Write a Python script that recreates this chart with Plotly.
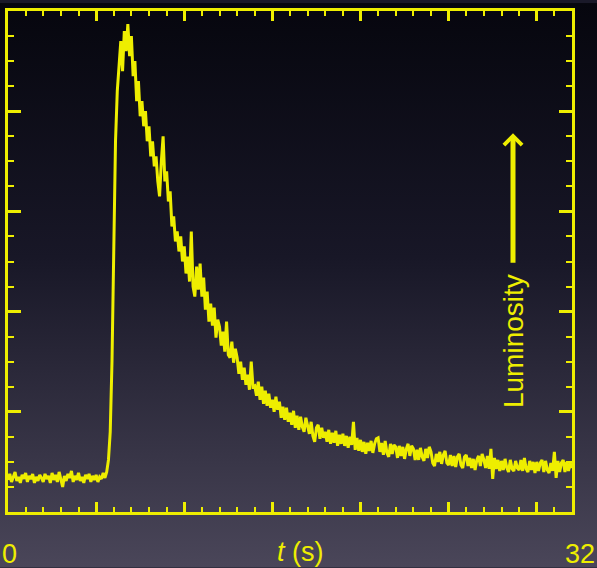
import base64
import plotly.graph_objects as go

# ---- data (t in s, luminosity in arbitrary units) ----
step = 0.1
luminosity = [
    0.32, 0.38, 0.30, 0.36, 0.40, 0.31, 0.35, 0.29, 0.37, 0.33,
    0.39, 0.30, 0.36, 0.33, 0.38, 0.29, 0.35, 0.31, 0.37, 0.34,
    0.30, 0.38, 0.33, 0.36, 0.29, 0.39, 0.32, 0.37, 0.30, 0.40,
    0.33, 0.25, 0.36, 0.31, 0.38, 0.34, 0.41, 0.30, 0.36, 0.32,
    0.39, 0.31, 0.35, 0.29, 0.37, 0.33, 0.38, 0.30, 0.36, 0.32,
    0.37, 0.30, 0.35, 0.33, 0.39, 0.34, 0.40, 0.52, 0.80, 1.50,
    2.60, 3.70, 4.20, 4.45, 4.70, 4.40, 4.80, 4.60, 4.87, 4.55,
    4.75, 4.35, 4.50, 4.10, 4.30, 3.95, 4.10, 3.85, 4.00, 3.70,
    3.85, 3.55, 3.70, 3.45, 3.55, 3.30, 3.15, 3.50, 3.75, 3.30,
    3.40, 3.10, 3.20, 2.85, 2.95, 2.70, 2.80, 2.60, 2.75, 2.50,
    2.65, 2.38, 2.55, 2.30, 2.80, 2.25, 2.15, 2.45, 2.22, 2.48,
    2.15, 2.34, 2.02, 2.20, 1.90, 2.08, 1.86, 2.04, 1.74, 1.92,
    1.85, 1.66, 1.80, 1.60, 1.90, 1.57, 1.54, 1.70, 1.49, 1.63,
    1.54, 1.38, 1.50, 1.32, 1.44, 1.27, 1.37, 1.22, 1.50, 1.25,
    1.26, 1.16, 1.30, 1.12, 1.25, 1.08, 1.21, 1.06, 1.18, 1.04,
    1.12, 1.00, 1.15, 1.02, 1.10, 0.94, 1.05, 0.92, 1.04, 0.90,
    0.99, 0.87, 1.01, 0.84, 0.96, 0.82, 0.95, 0.85, 0.80, 0.94,
    0.86, 0.78, 0.90, 0.76, 0.70, 0.84, 0.87, 0.73, 0.84, 0.74,
    0.80, 0.70, 0.82, 0.68, 0.79, 0.69, 0.81, 0.66, 0.77, 0.68,
    0.78, 0.66, 0.76, 0.64, 0.75, 0.67, 0.90, 0.62, 0.74, 0.61,
    0.72, 0.60, 0.70, 0.58, 0.69, 0.61, 0.71, 0.59, 0.68, 0.73,
    0.74, 0.60, 0.69, 0.57, 0.71, 0.59, 0.55, 0.68, 0.58, 0.67,
    0.65, 0.54, 0.66, 0.56, 0.65, 0.53, 0.63, 0.68, 0.56, 0.66,
    0.63, 0.52, 0.62, 0.52, 0.64, 0.55, 0.51, 0.63, 0.54, 0.65,
    0.60, 0.49, 0.46, 0.58, 0.50, 0.60, 0.48, 0.57, 0.61, 0.49,
    0.47, 0.57, 0.46, 0.56, 0.45, 0.55, 0.58, 0.47, 0.44, 0.55,
    0.57, 0.46, 0.54, 0.44, 0.53, 0.42, 0.52, 0.56, 0.46, 0.58,
    0.52, 0.44, 0.56, 0.43, 0.63, 0.33, 0.54, 0.43, 0.52, 0.41,
    0.51, 0.42, 0.53, 0.44, 0.40, 0.52, 0.43, 0.41, 0.51, 0.44,
    0.42, 0.52, 0.41, 0.54, 0.43, 0.40, 0.51, 0.42, 0.50, 0.39,
    0.50, 0.41, 0.49, 0.52, 0.40, 0.51, 0.42, 0.39, 0.49, 0.41,
    0.60, 0.34, 0.51, 0.40, 0.49, 0.52, 0.40, 0.50, 0.41, 0.49,
    0.44,
]
times = [round(i * step, 1) for i in range(len(luminosity))]

x_range = [0, 32]
y_range = [0, 5]
x_labels = ["0", "32"]
x_title = "<i>t</i> (s)"
y_title = "Luminosity"

# ---- styling ----
W, H = 597, 568
ML, MR, MT, MB = 8, 25, 8, 56
PW, PH = W - ML - MR, H - MT - MB
YEL = "#eeee00"
FONT = "Liberation Sans, Arial, Helvetica, sans-serif"

svg = (
    f'<svg xmlns="http://www.w3.org/2000/svg" width="{W}" height="{H}">'
    '<defs><linearGradient id="g" x1="0" y1="0" x2="0" y2="1">'
    '<stop offset="0" stop-color="#06060e"/>'
    '<stop offset="0.45" stop-color="#181727"/>'
    '<stop offset="1" stop-color="#4a4659"/>'
    '</linearGradient></defs>'
    f'<rect width="{W}" height="{H}" fill="url(#g)"/></svg>'
)
bg_src = "data:image/svg+xml;base64," + base64.b64encode(svg.encode()).decode()

fig = go.Figure()
fig.add_trace(go.Scatter(
    x=times, y=luminosity, mode="lines",
    line=dict(color=YEL, width=3), hoverinfo="skip", showlegend=False,
))

axis_common = dict(
    showgrid=False, zeroline=False, showticklabels=False,
    showline=True, linecolor=YEL, linewidth=3, mirror="allticks",
    ticks="inside", tickcolor=YEL, tickwidth=2.5,
    fixedrange=True,
)
fig.update_xaxes(range=x_range, tick0=0, dtick=5, ticklen=10,
                 minor=dict(dtick=1, ticklen=5, tickwidth=2, tickcolor=YEL, ticks="inside"),
                 **axis_common)
fig.update_yaxes(range=y_range, tick0=0, dtick=1, ticklen=13,
                 minor=dict(dtick=0.25, ticklen=6, tickwidth=2, tickcolor=YEL, ticks="inside"),
                 **axis_common)

def px_x(px):
    return (px - ML) / PW

def px_y(py):
    return (H - MB - py) / PH

annotations = [
    dict(text=x_labels[0], x=px_x(0), y=px_y(554), xanchor="left", yanchor="middle", size=27),
    dict(text=x_labels[1], x=px_x(597), y=px_y(554), xanchor="right", yanchor="middle", size=27),
    dict(text=x_title, x=px_x(301), y=px_y(552), xanchor="center", yanchor="middle", size=27),
    dict(text=y_title, x=px_x(513), y=px_y(340), xanchor="center", yanchor="middle",
         textangle=-90, size=28),
]
for a in annotations:
    size = a.pop("size")
    a.update(xref="paper", yref="paper", showarrow=False,
             font=dict(family=FONT, size=size, color=YEL))

annotations.append(dict(
    xref="paper", yref="paper", x=px_x(513), y=px_y(131), ax=0, ay=131,
    text="", showarrow=True, arrowhead=4, arrowsize=0.7, arrowwidth=5,
    arrowcolor=YEL, standoff=0, startstandoff=0,
))

fig.update_layout(
    width=W, height=H,
    margin=dict(l=ML, r=MR, t=MT, b=MB, pad=0),
    paper_bgcolor="#1a1929", plot_bgcolor="rgba(0,0,0,0)",
    annotations=annotations,
    images=[dict(source=bg_src, xref="paper", yref="paper",
                 x=-ML / PW, y=1 + MT / PH, sizex=W / PW, sizey=H / PH,
                 xanchor="left", yanchor="top", sizing="stretch", layer="below")],
)

fig.write_html("out.html")
